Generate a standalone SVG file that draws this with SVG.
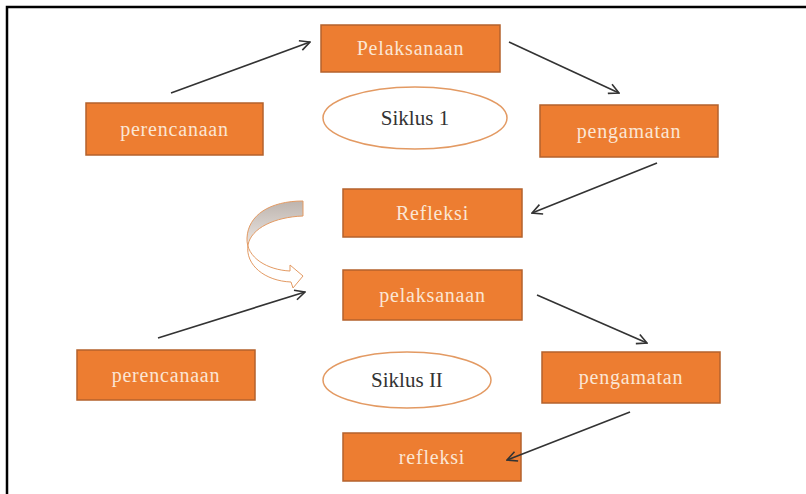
<svg xmlns="http://www.w3.org/2000/svg" width="806" height="494" viewBox="0 0 806 494">
<defs>
<style>
.box{fill:#ed7d31;stroke:#b4622c;stroke-width:1.5}
.bt{font-family:"Liberation Serif","DejaVu Serif",serif;font-size:20px;fill:#fbe6d4;text-anchor:middle;letter-spacing:0.8px}
.ell{fill:#ffffff;stroke:#e39a63;stroke-width:1.5}
.et{font-family:"Liberation Serif","DejaVu Serif",serif;font-size:21px;fill:#333333;text-anchor:middle}
.con{stroke:#333333;stroke-width:1.6;fill:none;marker-end:url(#ah)}
</style>
<marker id="ah" viewBox="0 0 12 12" refX="11" refY="6" markerWidth="12" markerHeight="12" markerUnits="userSpaceOnUse" orient="auto">
<path d="M1,1 L11,6 L1,11" fill="none" stroke="#333333" stroke-width="1.6"/>
</marker>
<linearGradient id="cg" x1="0" y1="0" x2="0" y2="1">
<stop offset="0" stop-color="#bdb4ae"/>
<stop offset="0.45" stop-color="#e6e0dc"/>
<stop offset="0.6" stop-color="#ffffff"/>
<stop offset="1" stop-color="#ffffff"/>
</linearGradient>
</defs>
<rect width="806" height="494" fill="#ffffff"/>
<path d="M7,494 V7 H806" fill="none" stroke="#000000" stroke-width="2.5"/>

<g id="perencanaan1"><rect class="box" x="86" y="103" width="177" height="52"/><text class="bt" x="174.5" y="136">perencanaan</text></g>
<g id="pelaksanaan1"><rect class="box" x="321" y="25" width="179" height="47"/><text class="bt" x="410.5" y="55">Pelaksanaan</text></g>
<g id="siklus1"><ellipse class="ell" cx="415" cy="118" rx="92" ry="31"/><text class="et" x="415" y="125">Siklus 1</text></g>
<g id="pengamatan1"><rect class="box" x="540" y="105" width="178" height="52"/><text class="bt" x="629" y="138">pengamatan</text></g>
<g id="refleksi1"><rect class="box" x="343" y="189" width="179" height="48"/><text class="bt" x="432.5" y="220">Refleksi</text></g>
<g id="pelaksanaan2"><rect class="box" x="343" y="270" width="179" height="50"/><text class="bt" x="432.5" y="302">pelaksanaan</text></g>
<g id="perencanaan2"><rect class="box" x="77" y="350" width="178" height="50"/><text class="bt" x="166" y="382">perencanaan</text></g>
<g id="siklus2"><ellipse class="ell" cx="407" cy="380" rx="84" ry="28"/><text class="et" x="407" y="387">Siklus II</text></g>
<g id="pengamatan2"><rect class="box" x="542" y="352" width="178" height="51"/><text class="bt" x="631" y="384">pengamatan</text></g>
<g id="refleksi2"><rect class="box" x="343" y="433" width="178" height="48"/><text class="bt" x="432" y="464">refleksi</text></g>

<g id="connectors">
<line class="con" x1="171" y1="93" x2="310" y2="42"/>
<line class="con" x1="509" y1="42" x2="619" y2="93"/>
<line class="con" x1="657" y1="163" x2="532" y2="213"/>
<line class="con" x1="158" y1="338" x2="305" y2="292"/>
<line class="con" x1="537" y1="295" x2="647" y2="343"/>
<line class="con" x1="630" y1="412" x2="507" y2="460"/>
<path id="curved-arrow" d="M303,201 C270,201 248,215 247,238 C246,258 268,270 290,271 L290,265 L303,276 L293,288 L291,282 C265,281 245,265 248,245 C251,228 275,217 303,216 Z" fill="url(#cg)" stroke="#e39a63" stroke-width="1"/>
</g>
</svg>
